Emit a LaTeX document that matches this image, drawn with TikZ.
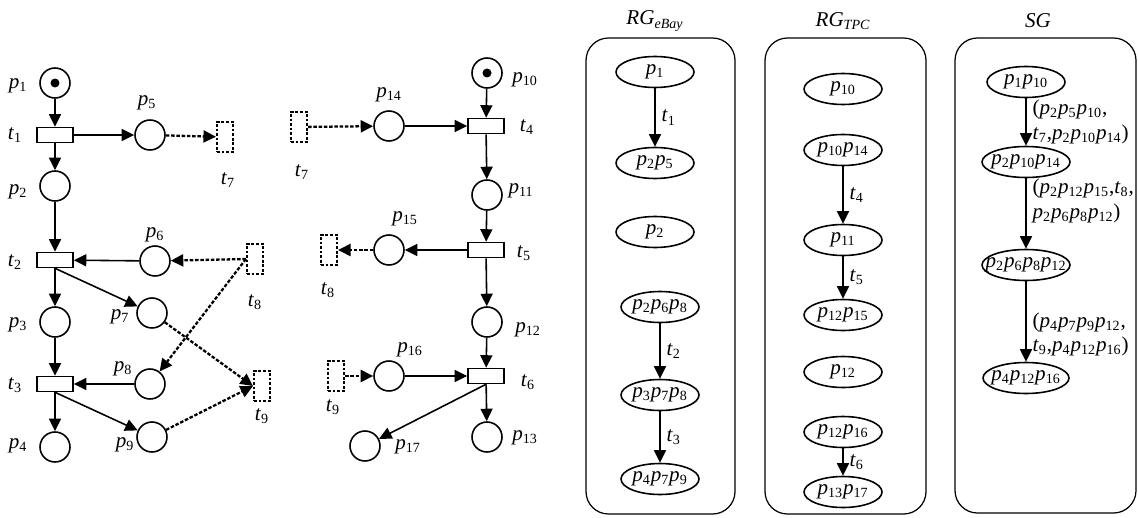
\documentclass[tikz,border=0pt]{standalone}
\usepackage{fontspec}
\setmainfont{Liberation Serif}
\usetikzlibrary{arrows.meta,shapes.geometric}
\newcommand\lugar[1]{\textit{p}\textsubscript{#1}}
\newcommand\trans[1]{\textit{t}\textsubscript{#1}}
\tikzset{
  lugar/.style={circle,draw,line width=0.9pt,minimum size=0.6cm,inner sep=0pt},
  marcado/.style={path picture={\fill (path picture bounding box.center) circle (0.09cm);}},
  transicion/.style={rectangle,draw,line width=0.9pt,minimum width=0.72cm,minimum height=0.3cm,inner sep=0pt},
  externa/.style={rectangle,draw,line width=1.2pt,dash pattern=on 1.6pt off 1pt,minimum width=0.32cm,minimum height=0.6cm,inner sep=0pt},
  arco/.style={line width=0.9pt,-{Triangle[length=2.5mm,width=2.4mm]}},
  enlace/.style={arco,line width=1.3pt,dash pattern=on 2pt off 1pt},
  estado/.style={ellipse,draw,line width=0.9pt,minimum width=1.56cm,minimum height=0.62cm,inner sep=0pt,
    execute at begin node={\hbox to 0pt\bgroup\hss},execute at end node={\hss\egroup}},
  grafo/.style={draw,line width=0.7pt,rounded corners=0.45cm}
}
\begin{document}
\begin{tikzpicture}[x=0.02cm,y=-0.02cm,font=\fontsize{12}{14}\selectfont]
  \useasboundingbox (0,0) rectangle (1138,517);
  % red eBay
  \node[lugar,marcado] (p1) at (55,83) {};
  \node[transicion] (t1) at (55,135) {};
  \node[lugar] (p5) at (150,135) {};
  \node[externa] (t7a) at (225,137) {};
  \node[lugar] (p2) at (55,186) {};
  \node[transicion] (t2) at (55,260) {};
  \node[lugar] (p6) at (155,261) {};
  \node[externa] (t8a) at (255,259) {};
  \node[lugar] (p7) at (152,313) {};
  \node[lugar] (p3) at (55,322) {};
  \node[transicion] (t3) at (55,384) {};
  \node[lugar] (p8) at (150,384) {};
  \node[externa] (t9a) at (262,386) {};
  \node[lugar] (p9) at (152,437) {};
  \node[lugar] (p4) at (55,447) {};
  % red TPC
  \node[lugar,marcado] (p10) at (487,73) {};
  \node[transicion] (t4) at (486,126) {};
  \node[lugar] (p14) at (389,126) {};
  \node[externa] (t7b) at (299,127) {};
  \node[lugar] (p11) at (487,195) {};
  \node[transicion] (t5) at (486,250) {};
  \node[lugar] (p15) at (389,250) {};
  \node[externa] (t8b) at (329,250) {};
  \node[lugar] (p12) at (487,322) {};
  \node[transicion] (t6) at (486,376) {};
  \node[lugar] (p16) at (389,376) {};
  \node[externa] (t9b) at (336,376) {};
  \node[lugar] (p13) at (487,437) {};
  \node[lugar] (p17) at (365,446) {};
  % etiquetas
  \foreach \n/\x/\y in {1/18/86, 5/147/103, 2/18/192, 6/155/235, 7/120/317, 3/18/325, 8/123/369,
      9/125/445, 4/18/446, 10/525/80, 14/389/95, 11/521/191, 15/405/219, 12/528/330,
      16/410/350, 13/525/438, 17/408/447}
    \node (lp\n) at (\x,\y) {\lugar{\n}};
  \foreach \m/\n/\x/\y in {t1/1/15/135, t7a/7/228/180, t2/2/15/262, t8a/8/255/302, t3/3/15/385,
      t9a/9/262/416, t4/4/527/127, t5/5/524/253, t6/6/528/382, t7b/7/302/172, t8b/8/328/290,
      t9b/9/333/407}
    \node (l\m) at (\x,\y) {\trans{\n}};
  % arcos
  \draw[arco] (p1) -- (t1);
  \draw[arco] (t1) -- (p5);
  \draw[enlace] (p5) -- (t7a);
  \draw[arco] (t1) -- (p2);
  \draw[arco] (p2) -- (t2);
  \draw[arco] (p6) -- (t2);
  \draw[enlace] (t8a.west) -- (p6);
  \draw[enlace] (t8a.west) -- (p8);
  \draw[arco] (t2.south) -- (p7);
  \draw[enlace] (p7) -- (t9a.west);
  \draw[arco] (t2) -- (p3);
  \draw[arco] (p3) -- (t3);
  \draw[arco] (p8) -- (t3);
  \draw[arco] (t3.south) -- (p9);
  \draw[enlace] (p9) -- (t9a.west);
  \draw[arco] (t3) -- (p4);
  \draw[arco] (p10) -- (t4);
  \draw[enlace] (t7b) -- (p14);
  \draw[arco] (p14) -- (t4);
  \draw[arco] (t4) -- (p11);
  \draw[arco] (p11) -- (t5);
  \draw[arco] (t5) -- (p15);
  \draw[enlace] (p15) -- (t8b);
  \draw[arco] (t5) -- (p12);
  \draw[arco] (p12) -- (t6);
  \draw[enlace] (t9b) -- (p16);
  \draw[arco] (p16) -- (t6);
  \draw[arco] (t6) -- (p13);
  \draw[arco] (t6.south) -- (p17);
  % RG_eBay
  \node (teBay) at (655,21) {\textit{RG}\textsubscript{\itshape eBay}};
  \draw[grafo] (586,38) rectangle (735,514);
  \node[estado] (e1) at (655,72) {\lugar{1}};
  \node[estado] (e2) at (655,163) {\lugar{2}\lugar{5}};
  \node[estado] (e3) at (655,232) {\lugar{2}};
  \node[estado] (e4) at (660,307) {\lugar{2}\lugar{6}\lugar{8}};
  \node[estado] (e5) at (660,395) {\lugar{3}\lugar{7}\lugar{8}};
  \node[estado] (e6) at (660,479) {\lugar{4}\lugar{7}\lugar{9}};
  \draw[arco] (e1) -- node[right] {\trans{1}} (e2);
  \draw[arco] (e4) -- node[right] {\trans{2}} (e5);
  \draw[arco] (e5) -- node[right] {\trans{3}} (e6);
  % RG_TPC
  \node (tTPC) at (843,21) {\textit{RG}\textsubscript{\itshape TPC}};
  \draw[grafo] (765,38) rectangle (926,514);
  \node[estado] (f1) at (843,89) {\lugar{10}};
  \node[estado] (f2) at (843,150) {\lugar{10}\lugar{14}};
  \node[estado] (f3) at (843,240) {\lugar{11}};
  \node[estado] (f4) at (843,315) {\lugar{12}\lugar{15}};
  \node[estado] (f5) at (843,372) {\lugar{12}};
  \node[estado] (f6) at (843,432) {\lugar{12}\lugar{16}};
  \node[estado] (f7) at (843,492) {\lugar{13}\lugar{17}};
  \draw[arco] (f2) -- node[right] {\trans{4}} (f3);
  \draw[arco] (f3) -- node[right] {\trans{5}} (f4);
  \draw[arco] (f6) -- node[right] {\trans{6}} (f7);
  % SG
  \node (tSG) at (1038,21) {\textit{SG}};
  \draw[grafo] (955,38) rectangle (1136,513);
  \node[estado] (g1) at (1026,82) {\lugar{1}\lugar{10}};
  \node[estado,minimum width=1.76cm] (g2) at (1026,162) {\lugar{2}\lugar{10}\lugar{14}};
  \node[estado,minimum width=1.76cm] (g3) at (1026,265) {\lugar{2}\lugar{6}\lugar{8}\lugar{12}};
  \node[estado,minimum width=1.72cm] (g4) at (1026,378) {\lugar{4}\lugar{12}\lugar{16}};
  \draw[arco] (g1) -- node[right,align=left] {(\lugar{2}\lugar{5}\lugar{10},\\\trans{7},\lugar{2}\lugar{10}\lugar{14})} (g2);
  \draw[arco] (g2) -- node[right,align=left,pos=0.32] {(\lugar{2}\lugar{12}\lugar{15},\trans{8},\\\lugar{2}\lugar{6}\lugar{8}\lugar{12})} (g3);
  \draw[arco] (g3) -- node[right,align=left,pos=0.66] {(\lugar{4}\lugar{7}\lugar{9}\lugar{12},\\\trans{9},\lugar{4}\lugar{12}\lugar{16})} (g4);
\end{tikzpicture}
\end{document}
